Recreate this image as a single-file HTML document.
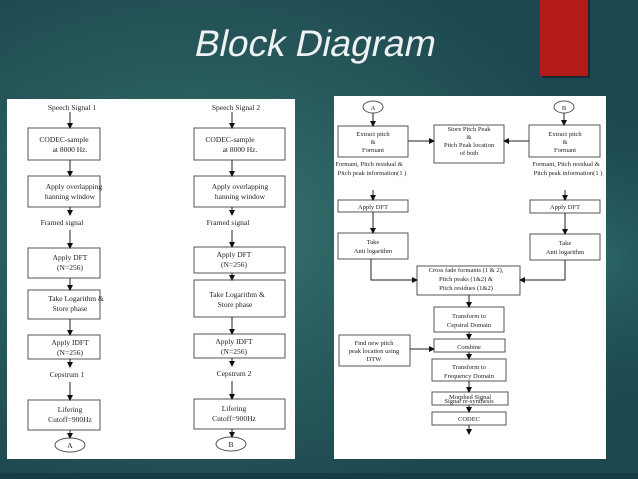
<!DOCTYPE html>
<html><head><meta charset="utf-8"><style>
body{margin:0;width:638px;height:479px;overflow:hidden;background:radial-gradient(ellipse 420px 300px at 200px 230px,#3a7470 0%,#27595b 55%,#1c4650 100%);font-family:"Liberation Serif",serif}
svg{position:absolute;left:0;top:0}
</style></head><body>
<svg width="638" height="479" viewBox="0 0 638 479">
<defs>
<radialGradient id="g2" cx="600" cy="260" r="200" gradientUnits="userSpaceOnUse"><stop offset="0" stop-color="#357a76" stop-opacity=".6"/><stop offset="1" stop-color="#1c4650" stop-opacity="0"/></radialGradient>
<marker id="a" markerWidth="6" markerHeight="6" refX="5" refY="3" orient="auto" markerUnits="userSpaceOnUse"><path d="M0,0L6,3L0,6z" fill="#111"/></marker>
</defs>
<rect x="0" y="0" width="638" height="479" fill="url(#g2)"/>
<rect x="0" y="473" width="638" height="6" fill="#163c48"/>
<rect x="542" y="0" width="48" height="78" fill="#111" opacity=".5"/>
<rect x="540" y="0" width="48" height="76" fill="#b41a18"/>
<text transform="translate(193,56) skewX(-12)" x="0" y="0" style="font-family:'Liberation Sans',sans-serif;font-size:37px" fill="#eef2f2">Block Diagram</text>
<rect x="7" y="99" width="288" height="360" fill="#fff"/>
<rect x="334" y="96" width="272" height="363" fill="#fff"/>
<g fill="#fff" stroke="#555" stroke-width="1">
<rect x="28" y="128" width="72" height="32"/><rect x="28" y="176" width="72" height="31"/><rect x="28" y="248" width="72" height="30"/><rect x="28" y="290" width="72" height="29"/><rect x="28" y="335" width="72" height="24"/><rect x="28" y="400" width="72" height="30"/>
<ellipse cx="70" cy="445" rx="15" ry="7"/>
<rect x="194" y="128" width="91" height="32"/><rect x="194" y="176" width="91" height="31"/><rect x="194" y="247" width="91" height="26"/><rect x="194" y="280" width="91" height="37"/><rect x="194" y="334" width="91" height="24"/><rect x="194" y="399" width="91" height="30"/>
<ellipse cx="231" cy="444" rx="15" ry="7"/>
<ellipse cx="373" cy="107" rx="10" ry="6"/><ellipse cx="564" cy="107" rx="10" ry="6"/>
<rect x="338" y="126" width="70" height="31"/><rect x="434" y="125" width="70" height="38"/><rect x="529" y="125" width="71" height="32"/>
<rect x="338" y="200" width="70" height="12"/><rect x="530" y="200" width="70" height="13"/>
<rect x="338" y="233" width="70" height="26"/><rect x="530" y="234" width="70" height="26"/>
<rect x="417" y="266" width="103" height="29"/><rect x="434" y="307" width="70" height="25"/>
<rect x="339" y="335" width="71" height="31"/><rect x="434" y="339" width="71" height="13"/>
<rect x="432" y="359" width="74" height="22"/><rect x="432" y="392" width="76" height="13"/><rect x="432" y="412" width="74" height="13"/>
</g>
<g stroke="#222" stroke-width="1" fill="none" marker-end="url(#a)">
<path d="M70 112V128"/><path d="M70 160V176"/><path d="M70 207V215"/><path d="M70 230V248"/><path d="M70 278V290"/><path d="M70 319V335"/><path d="M70 359V367"/><path d="M70 382V400"/><path d="M70 430V438"/>
<path d="M232 112V128"/><path d="M232 160V176"/><path d="M232 207V215"/><path d="M232 230V247"/><path d="M232 273V280"/><path d="M232 317V334"/><path d="M232 358V366"/><path d="M232 381V399"/><path d="M232 429V437"/>
<path d="M373 113V126"/><path d="M564 113V125"/>
<path d="M408 141H434"/><path d="M529 141H504"/>
<path d="M373 190V200"/><path d="M565 190V200"/>
<path d="M373 212V233"/><path d="M565 213V234"/>
<path d="M371 259V280H417"/><path d="M565 260V280H520"/>
<path d="M469 295V307"/><path d="M469 332V339"/><path d="M410 349H434"/><path d="M469 352V359"/><path d="M469 381V392"/><path d="M469 405V412"/><path d="M469 425V434"/>
</g>
<g font-size="7.5" fill="#222" text-anchor="middle">
<text x="72" y="110">Speech Signal 1</text><text x="236" y="110">Speech Signal 2</text>
<text x="64" y="142">CODEC-sample</text><text x="70" y="152">at 8000 Hz.</text>
<text x="230" y="142">CODEC-sample</text><text x="240" y="152">at 8000 Hz.</text>
<text x="74" y="189">Apply overlapping</text><text x="70" y="199">hanning window</text>
<text x="240" y="189">Apply overlapping</text><text x="240" y="199">hanning window</text>
<text x="62" y="225">Framed signal</text><text x="228" y="225">Framed signal</text>
<text x="70" y="260">Apply DFT</text><text x="70" y="270">(N=256)</text>
<text x="234" y="257">Apply DFT</text><text x="234" y="267">(N=256)</text>
<text x="76" y="301">Take Logarithm &amp;</text><text x="70" y="311">Store phase</text>
<text x="237" y="297">Take Logarithm &amp;</text><text x="235" y="307">Store phase</text>
<text x="70" y="345">Apply IDFT</text><text x="70" y="355">(N=256)</text>
<text x="234" y="344">Apply IDFT</text><text x="234" y="354">(N=256)</text>
<text x="67" y="377">Cepstrum 1</text><text x="234" y="376">Cepstrum 2</text>
<text x="70" y="412">Lifering</text><text x="70" y="422">Cutoff=900Hz</text>
<text x="234" y="411">Lifering</text><text x="234" y="421">Cutoff=900Hz</text>
<text x="70" y="448">A</text><text x="231" y="447">B</text>
</g>
<g font-size="6.5" fill="#222" text-anchor="middle">
<text x="373" y="110">A</text><text x="564" y="110">B</text>
<text x="373" y="136">Extract pitch</text><text x="373" y="144">&amp;</text><text x="373" y="152">Formant</text>
<text x="565" y="136">Extract pitch</text><text x="565" y="144">&amp;</text><text x="565" y="152">Formant</text>
<text x="469" y="131">Store Pitch Peak</text><text x="469" y="139">&amp;</text><text x="469" y="147">Pitch Peak location</text><text x="469" y="155">of both</text>
<text x="369" y="166">Formant, Pitch residual &amp;</text><text x="372" y="175">Pitch peak information(1 )</text>
<text x="566" y="166">Formant, Pitch residual &amp;</text><text x="568" y="175">Pitch peak information(1 )</text>
<text x="373" y="209">Apply DFT</text><text x="565" y="209">Apply DFT</text>
<text x="373" y="244">Take</text><text x="373" y="253">Anti logarithm</text>
<text x="565" y="245">Take</text><text x="565" y="254">Anti logarithm</text>
<text x="466" y="272">Cross fade formants (1 &amp; 2),</text><text x="466" y="281">Pitch peaks (1&amp;2) &amp;</text><text x="466" y="290">Pitch residues (1&amp;2)</text>
<text x="469" y="318">Transform to</text><text x="469" y="327">Cepstral Domain</text>
<text x="374" y="345">Find new pitch</text><text x="374" y="353">peak location using</text><text x="374" y="361">DTW</text>
<text x="469" y="349">Combine</text>
<text x="469" y="369">Transform to</text><text x="469" y="378">Frequency Domain</text>
<text x="470" y="399">Morphed Signal</text><text x="469" y="403">Signal re-synthesis</text>
<text x="469" y="421">CODEC</text>
</g>
</svg>
</body></html>
